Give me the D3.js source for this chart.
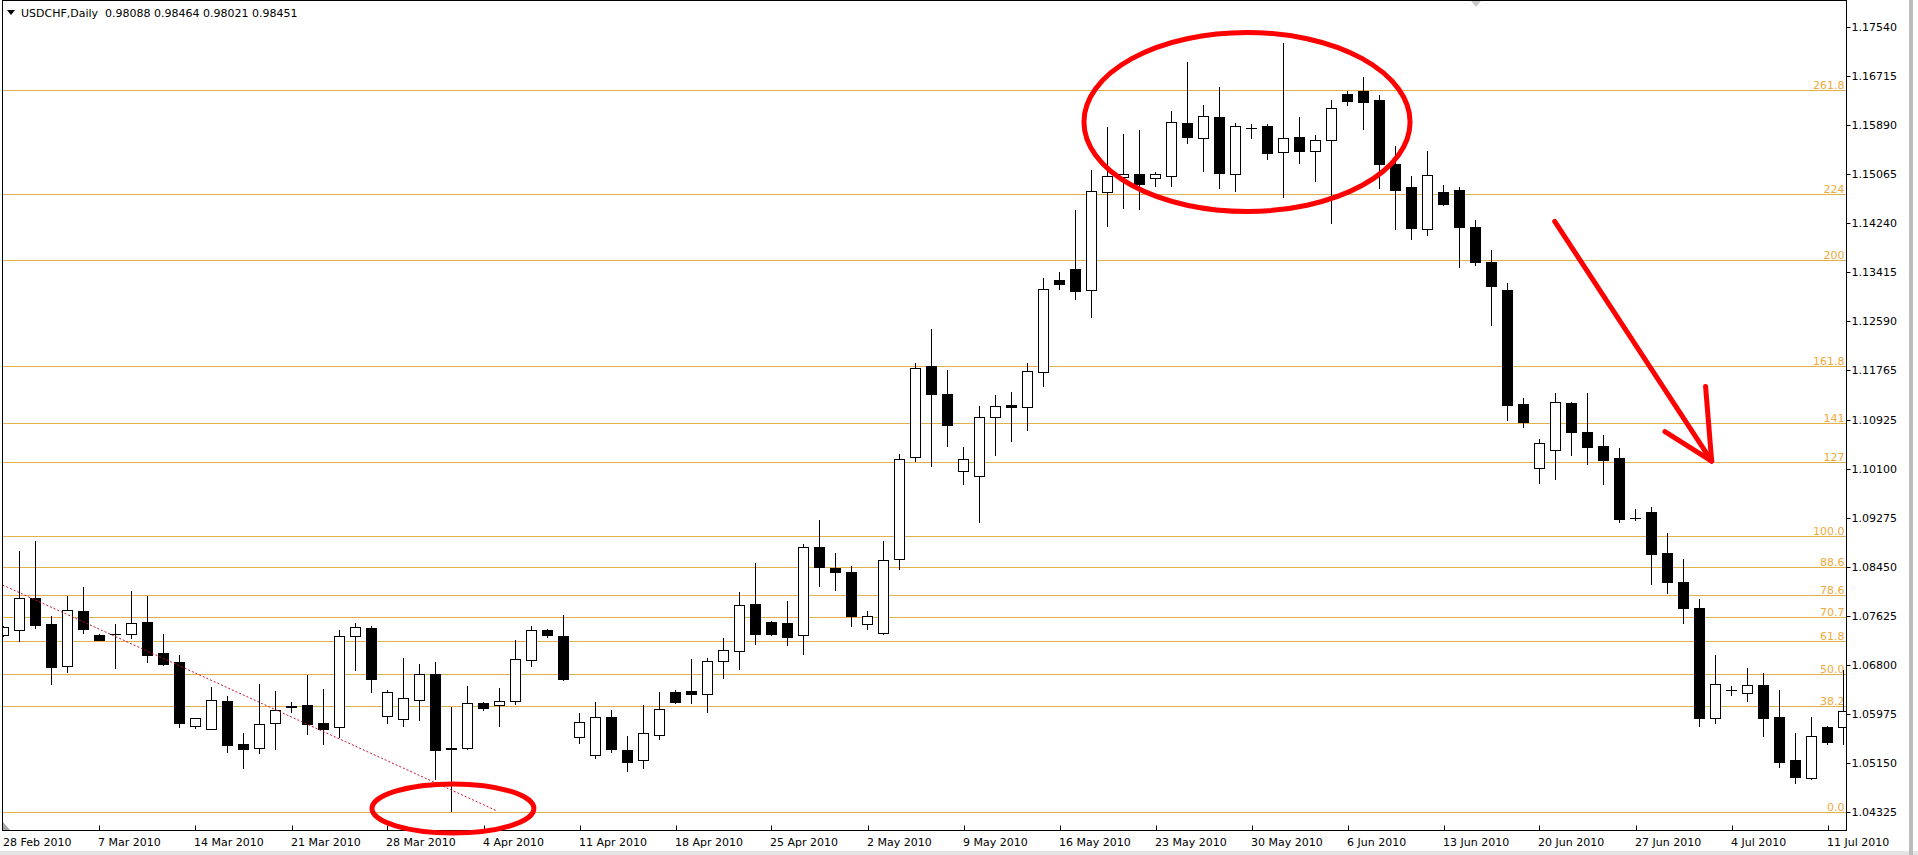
<!DOCTYPE html>
<html><head><meta charset="utf-8">
<script src="https://cdn.jsdelivr.net/npm/d3@7"></script>
<style>
html,body{margin:0;padding:0;background:#fff;overflow:hidden}
svg{display:block}
text{font-family:"DejaVu Sans",Verdana,sans-serif;font-size:11px}
</style></head><body>
<svg id="chart" width="1918" height="855"></svg>
<script>
const symbolTitle = "USDCHF,Daily  0.98088 0.98464 0.98021 0.98451";

const opens = [1.07296,1.07386,1.07920,1.07482,1.06785,1.07706,1.07296,1.07313,1.07324,1.07515,
1.06993,1.06847,1.05774,1.05724,1.06184,1.05460,1.05404,1.05814,1.06083,1.06117,
1.05819,1.05746,1.07291,1.07420,1.05932,1.05881,1.06213,1.06645,1.05393,1.05404,
1.06151,1.06128,1.06196,1.06875,1.07386,1.07285,1.05578,1.05275,1.05915,1.05359,
1.05191,1.05623,1.06336,1.06353,1.06303,1.06859,1.07038,1.07819,1.07516,1.07499,
1.07297,1.08779,1.08431,1.08358,1.07482,1.07341,1.08577,1.10295,1.11834,1.11357,
1.10060,1.09975,1.10969,1.11172,1.11138,1.11738,1.13283,1.13463,1.13106,1.14760,
1.15013,1.15063,1.14996,1.15040,1.15928,1.15680,1.16029,1.15074,1.15838,1.15877,
1.15434,1.15692,1.15451,1.15646,1.16416,1.16467,1.16315,1.15237,1.14849,1.14147,
1.14760,1.14799,1.14175,1.13586,1.13114,1.11193,1.10110,1.10423,1.11205,1.10717,
1.10486,1.10284,1.09278,1.09374,1.08678,1.08194,1.07756,1.05908,1.06370,1.06329,
1.06454,1.05915,1.05196,1.04897,1.05757,1.05746];
const highs = [1.07459,1.08717,1.08886,1.07628,1.07959,1.08111,1.07313,1.07482,1.08043,1.07959,
1.07313,1.06965,1.05909,1.06420,1.06274,1.05651,1.06476,1.06359,1.06173,1.06628,
1.06392,1.07386,1.07504,1.07448,1.06375,1.06915,1.06813,1.06847,1.06089,1.06448,
1.06168,1.06409,1.07218,1.07448,1.07410,1.07639,1.05982,1.06168,1.06039,1.05601,
1.06117,1.06336,1.06376,1.06892,1.06909,1.07246,1.08021,1.08510,1.07532,1.07869,
1.08830,1.09240,1.08684,1.08459,1.07701,1.08886,1.10346,1.11879,1.12452,1.11766,
1.10464,1.11165,1.11345,1.11391,1.11879,1.13311,1.13417,1.14462,1.15136,1.15865,
1.15742,1.15810,1.15102,1.16130,1.16947,1.16231,1.16534,1.15933,1.15906,1.15906,
1.17275,1.16029,1.15726,1.16315,1.16462,1.16711,1.16399,1.15540,1.15035,1.15456,
1.14883,1.14854,1.14293,1.13788,1.13232,1.11289,1.10599,1.11374,1.11232,1.11374,
1.10671,1.10447,1.09419,1.09463,1.09025,1.08577,1.07903,1.06960,1.06447,1.06740,
1.06666,1.06370,1.05645,1.05925,1.05773,1.06712];
const lows = [1.07285,1.07207,1.07426,1.06482,1.06684,1.07341,1.07212,1.06752,1.07257,1.06853,
1.06802,1.05758,1.05741,1.05724,1.05336,1.05067,1.05320,1.05387,1.06010,1.05628,
1.05460,1.05583,1.06718,1.06347,1.05814,1.05763,1.05876,1.04882,1.04337,1.05387,
1.06046,1.05774,1.06134,1.06784,1.07270,1.06544,1.05488,1.05224,1.05337,1.05016,
1.05067,1.05556,1.06151,1.06151,1.06010,1.06583,1.06735,1.07156,1.07308,1.07139,
1.06988,1.08133,1.08066,1.07459,1.07409,1.07313,1.08409,1.10238,1.10149,1.10486,
1.09846,1.09210,1.10334,1.10570,1.10755,1.11497,1.13136,1.12957,1.12664,1.14196,
1.14501,1.14484,1.14866,1.14866,1.15596,1.15119,1.14838,1.14787,1.15680,1.15326,
1.14686,1.15259,1.14956,1.14248,1.16231,1.15827,1.14838,1.14147,1.13968,1.14046,
1.14546,1.13497,1.13535,1.12524,1.10924,1.10811,1.09867,1.09925,1.10339,1.10188,
1.09841,1.09210,1.09234,1.08166,1.08014,1.07509,1.05773,1.05824,1.06291,1.06195,
1.05605,1.05083,1.04803,1.04880,1.05460,1.05460];
const closes = [1.07442,1.07920,1.07470,1.06768,1.07718,1.07409,1.07223,1.07313,1.07499,1.06971,
1.06819,1.05825,1.05898,1.06201,1.05454,1.05387,1.05803,1.06033,1.06111,1.05808,
1.05724,1.07280,1.07431,1.06566,1.06336,1.06235,1.06645,1.05370,1.05381,1.06151,
1.06078,1.06184,1.06898,1.07386,1.07297,1.06566,1.05831,1.05915,1.05376,1.05168,
1.05645,1.06050,1.06179,1.06303,1.06859,1.07044,1.07802,1.07325,1.07325,1.07274,
1.08779,1.08453,1.08369,1.07628,1.07628,1.08560,1.10273,1.11795,1.11367,1.10835,
1.10262,1.10969,1.11155,1.11138,1.11744,1.13126,1.13215,1.13102,1.14774,1.15030,
1.15063,1.14905,1.15063,1.15945,1.15697,1.16041,1.15090,1.15872,1.15838,1.15427,
1.15670,1.15461,1.15636,1.16175,1.16298,1.16281,1.15237,1.14799,1.14164,1.15047,
1.14568,1.14181,1.13586,1.13181,1.11182,1.10890,1.10531,1.11222,1.10727,1.10474,
1.10255,1.09261,1.09278,1.08671,1.08200,1.07761,1.05908,1.06471,1.06370,1.06454,
1.05908,1.05167,1.04914,1.05595,1.05504,1.06026];

const weekLabels = ["28 Feb 2010","7 Mar 2010","14 Mar 2010","21 Mar 2010","28 Mar 2010","4 Apr 2010",
"11 Apr 2010","18 Apr 2010","25 Apr 2010","2 May 2010","9 May 2010","16 May 2010","23 May 2010",
"30 May 2010","6 Jun 2010","13 Jun 2010","20 Jun 2010","27 Jun 2010","4 Jul 2010","11 Jul 2010"];
const barsPerWeek = 6;

const priceTicks = ["1.04325","1.05150","1.05975","1.06800","1.07625","1.08450","1.09275","1.10100",
"1.10925","1.11765","1.12590","1.13415","1.14240","1.15065","1.15890","1.16715","1.17540"];

const fibLevels = [0, 38.2, 50, 61.8, 70.7, 78.6, 88.6, 100, 127, 141, 161.8, 200, 224, 261.8];
const fibLabels = ["0.0","38.2","50.0","61.8","70.7","78.6","88.6","100.0","127","141","161.8","200","224","261.8"];
const fibLow = 1.04325, fibHigh = 1.08969;

const trendLine = [{bar:-0.05, price:1.08144},{bar:30.86, price:1.04336}];
const ellipses = [{bar:28.09, price:1.04378, rBars:5.06, rPrice:0.00413},
                  {bar:77.72, price:1.15945, rBars:10.19, rPrice:0.01508}];
const arrowShaft = [{bar:96.95, price:1.14270},{bar:106.76, price:1.10233}];
const arrowWings = [{bar:106.38, price:1.11488},{bar:103.84, price:1.10730}];

// ---------- layout ----------
const L = 2.5, T = 0.5, R = 1846.5, B = 830.5;
const svg = d3.select("#chart");
const x = d3.scaleLinear().domain([0, opens.length - 1]).range([3.5, 1843.5]);
const y = d3.scaleLinear().domain([1.04325, 1.17540]).range([811.7, 27.3]);
const py = v => Math.round(y(v)) + 0.5;

svg.append("rect").attr("width",1918).attr("height",855).attr("fill","#fff");
svg.append("rect").attr("x",0).attr("y",851).attr("width",1918).attr("height",4).attr("fill","#e4e4e4");
svg.append("rect").attr("x",1909).attr("y",0).attr("width",4).attr("height",855).attr("fill","#bcbcbc");

svg.append("defs").append("clipPath").attr("id","plotclip")
  .append("rect").attr("x",L).attr("y",T).attr("width",R-L).attr("height",B-T);
const plot = svg.append("g").attr("clip-path","url(#plotclip)");

// fibonacci levels
const fibG = plot.append("g");
fibLevels.forEach((lv, k) => {
  const p = fibLow + lv / 100 * (fibHigh - fibLow);
  const yy = py(p);
  fibG.append("line").attr("x1",L).attr("x2",R).attr("y1",yy).attr("y2",yy)
    .attr("stroke","#e2b04a").attr("stroke-width",1);
  fibG.append("text").attr("x",R-2).attr("y",yy-2).attr("text-anchor","end")
    .attr("fill","#efa93a").text(fibLabels[k]);
});

// candles
const idx = d3.range(opens.length);
const cg = plot.append("g");
idx.forEach(i => {
  const cx = x(i);
  const o = opens[i], c = closes[i], h = highs[i], l = lows[i];
  cg.append("line").attr("x1",cx).attr("x2",cx).attr("y1",py(h)-0.5).attr("y2",py(l)+0.5)
    .attr("stroke","#000").attr("stroke-width",1);
  const yt = py(Math.max(o,c)), yb = py(Math.min(o,c));
  if (yb - yt < 1) {
    cg.append("line").attr("x1",cx-5.5).attr("x2",cx+5.5).attr("y1",yt).attr("y2",yt)
      .attr("stroke","#000").attr("stroke-width",1);
  } else if (c >= o) {
    cg.append("rect").attr("x",cx-5).attr("y",yt).attr("width",10).attr("height",yb-yt)
      .attr("fill","#fff").attr("stroke","#000").attr("stroke-width",1);
  } else {
    cg.append("rect").attr("x",cx-5.5).attr("y",yt-0.5).attr("width",11).attr("height",yb-yt+1)
      .attr("fill","#000");
  }
});

// trend line (dotted)
plot.append("line")
  .attr("x1",x(trendLine[0].bar)).attr("y1",y(trendLine[0].price))
  .attr("x2",x(trendLine[1].bar)).attr("y2",y(trendLine[1].price))
  .attr("stroke","#c8102e").attr("stroke-width",1).attr("stroke-dasharray","2,2");

// frame
svg.append("rect").attr("x",L).attr("y",T).attr("width",R-L).attr("height",B-T)
  .attr("fill","none").attr("stroke","#000").attr("stroke-width",1);

// price axis
const yAxisG = svg.append("g");
priceTicks.forEach(t => {
  const yy = py(+t);
  yAxisG.append("line").attr("x1",R).attr("x2",R+4).attr("y1",yy).attr("y2",yy).attr("stroke","#000");
  yAxisG.append("text").attr("x",R+5).attr("y",yy).attr("dy","0.36em").attr("fill","#000").text(t);
});

// date axis
const xAxisG = svg.append("g");
weekLabels.forEach((lab, k) => {
  const xx = Math.round(x(k * barsPerWeek)) + 0.5;
  xAxisG.append("line").attr("x1",xx).attr("x2",xx).attr("y1",B-5).attr("y2",B).attr("stroke","#000");
  xAxisG.append("text").attr("x",xx-1.5).attr("y",846).attr("fill","#000").text(lab);
});

// annotations
const ann = svg.append("g").attr("fill","none").attr("stroke","#f00").attr("stroke-width",5);
ellipses.forEach(e => {
  ann.append("ellipse").attr("cx",x(e.bar)).attr("cy",y(e.price))
    .attr("rx",x(e.bar+e.rBars)-x(e.bar)).attr("ry",y(e.price-e.rPrice)-y(e.price));
});
ann.append("line").attr("x1",x(arrowShaft[0].bar)).attr("y1",y(arrowShaft[0].price))
  .attr("x2",x(arrowShaft[1].bar)).attr("y2",y(arrowShaft[1].price)).attr("stroke-linecap","round");
arrowWings.forEach(w => {
  ann.append("line").attr("x1",x(w.bar)).attr("y1",y(w.price))
    .attr("x2",x(arrowShaft[1].bar)).attr("y2",y(arrowShaft[1].price)).attr("stroke-linecap","round");
});

// title
svg.append("path").attr("d","M7,10 L15,10 L11,15 Z").attr("fill","#000");
svg.append("text").attr("x",21).attr("y",17).attr("fill","#000").attr("xml:space","preserve").style("white-space","pre").text(symbolTitle);

// small markers
svg.append("path").attr("d","M1471,1 L1481,1 L1476,7 Z").attr("fill","#c8c8c8");
svg.append("path").attr("d","M3,822 L3,830 L10,830 Z").attr("fill","#a8a8a8");
</script>
</body></html>
